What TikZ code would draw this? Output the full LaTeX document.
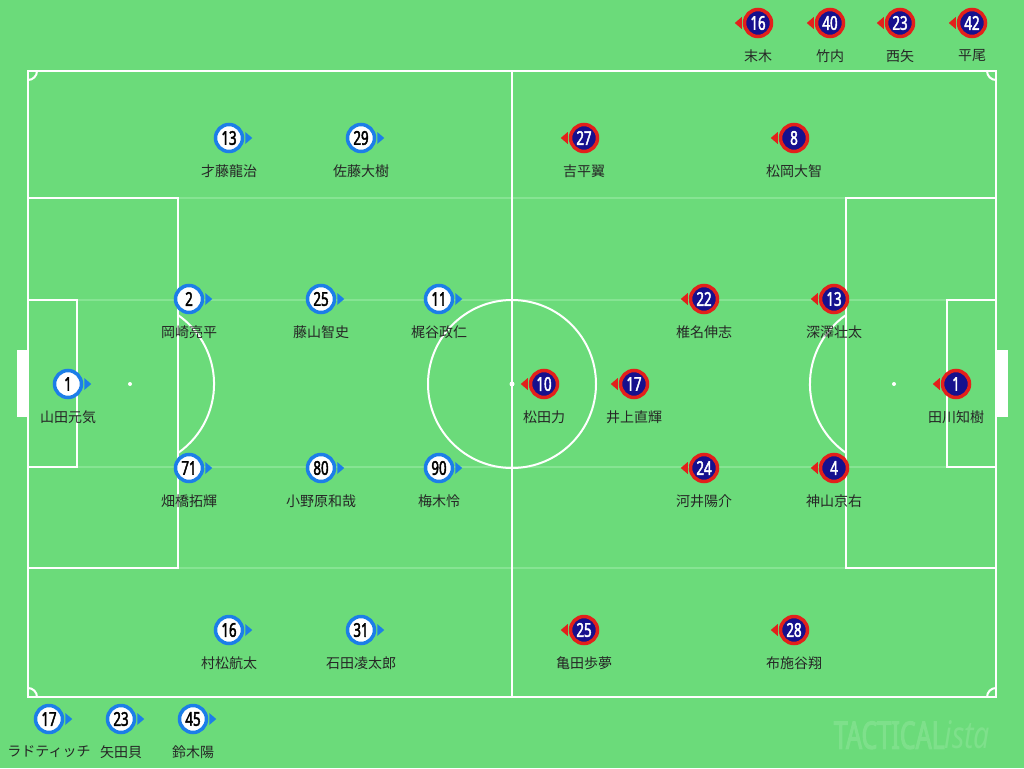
\documentclass[tikz,border=0pt]{standalone}
\usepackage{fontspec}
\setmainfont{Noto Sans CJK JP}
\newfontfamily\numfont[FakeStretch=0.7,FakeBold=2.2]{Noto Sans}
\newfontfamily\logofont[FakeStretch=0.66,FakeBold=2.5]{Noto Sans}
\newfontfamily\logoita[FakeStretch=0.75]{Noto Sans}

\definecolor{pitch}{HTML}{6BDB7A}
\definecolor{faint}{HTML}{86E493}
\definecolor{homeblue}{HTML}{1C7EE8}
\definecolor{awayred}{HTML}{E3201B}
\definecolor{awaynavy}{HTML}{16108E}
\definecolor{logo}{HTML}{7EE08B}

\tikzset{
  line/.style={draw=white, line width=2},
  faintline/.style={draw=faint, line width=2},
  marker/.style={circle, line width=3.5, minimum size=27, inner sep=0,
    font=\numfont\fontsize{19}{19}\selectfont},
  home/.style={marker, draw=homeblue, fill=white, text=black},
  away/.style={marker, draw=awayred, fill=awaynavy, text=white},
  pname/.style={font=\fontsize{14}{16}\selectfont, text=black!85, inner sep=0},
}

\begin{document}
\begin{tikzpicture}[x=1pt, y=-1pt]
  \fill[pitch] (0,0) rectangle (1024,768);
  \useasboundingbox (0,0) rectangle (1024,768);

  % faint stripes
  \foreach \y in {198,300,467,568}
    \draw[faintline] (28,\y) -- (996,\y);

  % pitch
  \draw[line] (28,71) rectangle (996,697);
  \draw[line] (512,71) -- (512,697);
  \draw[line] (512,384) circle[radius=84];
  \fill[white] (512,384) circle[radius=2.5];
  \draw[line] (28,198) rectangle (178,568);
  \draw[line] (996,198) rectangle (846,568);
  \draw[line] (28,300) rectangle (77,467);
  \draw[line] (996,300) rectangle (947,467);
  \fill[white] (130,384) circle[radius=2] (894,384) circle[radius=2];
  \draw[line] (178,453) arc[start angle=55.2, end angle=-55.2, radius=84];
  \draw[line] (846,315) arc[start angle=235.2, end angle=124.8, radius=84];
  \fill[white] (17,350) rectangle (28,417);
  \fill[white] (996,350) rectangle (1008,417);
  % corners
  \draw[line] (37,71) arc[start angle=0, end angle=90, radius=9];
  \draw[line] (987,71) arc[start angle=180, end angle=90, radius=9];
  \draw[line] (28,688) arc[start angle=270, end angle=360, radius=9];
  \draw[line] (996,688) arc[start angle=270, end angle=180, radius=9];

  % home team
  \foreach \x/\y/\n/\nm in {229/138/13/才藤龍治, 361/138/29/佐藤大樹,
      189/299/2/岡崎亮平, 321/299/25/藤山智史, 439/299/11/梶谷政仁,
      68/384/1/山田元気,
      189/468/71/畑橋拓輝, 321/468/80/小野原和哉, 439/468/90/梅木怜,
      229/630/16/村松航太, 361/630/31/石田凌太郎,
      49/719/17/ラドティッチ, 121/719/23/矢田貝, 193/719/45/鈴木陽}
  {
    \node[home] (h\n) at (\x,\y) {\n};
    \fill[homeblue] ([xshift=1]h\n.east) ++(0,-6) -- ++(0,12) -- ++(7,-6) -- cycle;
    \node[pname] (h\n-name) at (\x,\y+33) {\nm};
  }

  % away team
  \foreach \x/\y/\n/\nm in {584/138/27/吉平翼, 794/138/8/松岡大智,
      704/299/22/椎名伸志, 834/299/13/深澤壮太,
      544/384/10/松田力, 634/384/17/井上直輝, 956/384/1/田川知樹,
      704/468/24/河井陽介, 834/468/4/神山京右,
      584/630/25/亀田歩夢, 794/630/28/布施谷翔,
      758/23/16/末木, 830/23/40/竹内, 900/23/23/西矢, 972/23/42/平尾}
  {
    \node[away] (a\n) at (\x,\y) {\n};
    \fill[awayred] ([xshift=-1]a\n.west) ++(0,-6) -- ++(0,12) -- ++(-7,-6) -- cycle;
    \node[pname] (a\n-name) at (\x,\y+33) {\nm};
  }

  \node[text=logo, inner sep=0] (logo) at (912,735)
    {\fontsize{38}{38}\selectfont\logofont TACTICAL\logoita\itshape ista};
\end{tikzpicture}
\end{document}
